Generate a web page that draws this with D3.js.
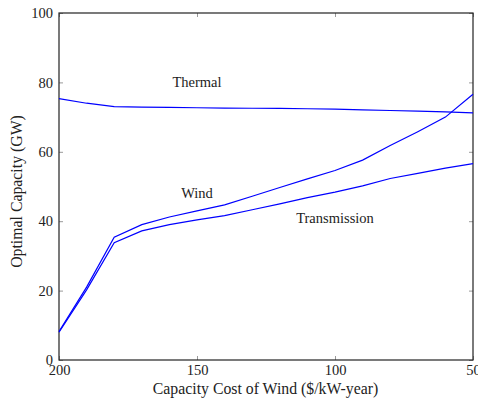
<!DOCTYPE html>
<html>
<head>
<meta charset="UTF-8">
<script src="https://d3js.org/d3.v7.min.js"></script>
<style>
  body { margin: 0; background: #fff; }
</style>
</head>
<body>
<svg id="chart" width="478" height="399"></svg>
<script>
// capacity cost of wind ($/kW-year)
const costs = [200, 190, 180, 170, 160, 150, 140, 130, 120, 110, 100, 90, 80, 70, 60, 50];
const thermal = [75.3, 74.0, 73.0, 72.9, 72.8, 72.7, 72.6, 72.55, 72.5, 72.4, 72.3, 72.1, 71.9, 71.7, 71.5, 71.2];
const wind = [8.2, 21.0, 35.4, 39.0, 41.2, 43.0, 44.7, 47.2, 49.7, 52.2, 54.6, 57.6, 61.8, 65.8, 70.0, 76.6];
const transmission = [8.0, 20.2, 33.8, 37.2, 39.0, 40.4, 41.6, 43.3, 45.0, 46.8, 48.4, 50.2, 52.3, 53.8, 55.3, 56.6];
const xTicks = [200, 150, 100, 50];
const yTicks = [0, 20, 40, 60, 80, 100];
const labels = [
  { text: 'Thermal', x: 150, y: 80 },
  { text: 'Wind', x: 150, y: 48 },
  { text: 'Transmission', x: 100, y: 41 }
];

const serif = "'Liberation Serif', 'DejaVu Serif', serif";
const svg = d3.select('#chart');
const plotLeft = 59, plotRight = 473, plotTop = 13, plotBottom = 360;

const x = d3.scaleLinear().domain([200, 50]).range([plotLeft, plotRight]);
const y = d3.scaleLinear().domain([0, 100]).range([plotBottom, plotTop]);

// ticks (inside, grey) on all four sides
const tickLen = 4;
const tickStyle = g => g.call(s => s.select('.domain').remove())
  .selectAll('.tick line').attr('stroke', '#999');

svg.append('g').attr('transform', `translate(0,${plotBottom})`)
  .call(d3.axisBottom(x).tickValues(xTicks).tickSizeInner(-tickLen).tickSizeOuter(0).tickPadding(5))
  .call(tickStyle);
svg.append('g').attr('transform', `translate(0,${plotTop})`)
  .call(d3.axisTop(x).tickValues(xTicks).tickSizeInner(-tickLen).tickSizeOuter(0).tickFormat(''))
  .call(tickStyle);
svg.append('g').attr('transform', `translate(${plotLeft},0)`)
  .call(d3.axisLeft(y).tickValues(yTicks).tickSizeInner(-tickLen).tickSizeOuter(0).tickPadding(6))
  .call(tickStyle);
svg.append('g').attr('transform', `translate(${plotRight},0)`)
  .call(d3.axisRight(y).tickValues(yTicks).tickSizeInner(-tickLen).tickSizeOuter(0).tickFormat(''))
  .call(tickStyle);

svg.selectAll('g').attr('font-family', serif).attr('font-size', 14.5);
svg.selectAll('.tick text').attr('fill', '#222');

// frame
svg.append('rect')
  .attr('x', plotLeft).attr('y', plotTop)
  .attr('width', plotRight - plotLeft).attr('height', plotBottom - plotTop)
  .attr('fill', 'none').attr('stroke', '#222').attr('stroke-width', 1.2);

// lines
const line = d3.line().x((d, i) => x(costs[i])).y(d => y(d));
[thermal, wind, transmission].forEach(series => {
  svg.append('path')
    .datum(series)
    .attr('d', line)
    .attr('fill', 'none')
    .attr('stroke', '#0000ff')
    .attr('stroke-width', 1.2);
});

// series labels
svg.selectAll('.lbl')
  .data(labels)
  .enter()
  .append('text')
  .attr('x', d => x(d.x))
  .attr('y', d => y(d.y))
  .attr('text-anchor', 'middle')
  .attr('dominant-baseline', 'central')
  .attr('font-family', serif)
  .attr('font-size', 14.5)
  .attr('fill', '#222')
  .text(d => d.text);

// axis titles
svg.append('text')
  .attr('x', 265.5)
  .attr('y', 394)
  .attr('text-anchor', 'middle')
  .attr('font-family', serif)
  .attr('font-size', 15.8)
  .attr('fill', '#222')
  .text('Capacity Cost of Wind ($/kW-year)');

svg.append('text')
  .attr('transform', `translate(22,191.5) rotate(-90)`)
  .attr('text-anchor', 'middle')
  .attr('font-family', serif)
  .attr('font-size', 15.8)
  .attr('fill', '#222')
  .text('Optimal Capacity (GW)');
</script>
</body>
</html>
